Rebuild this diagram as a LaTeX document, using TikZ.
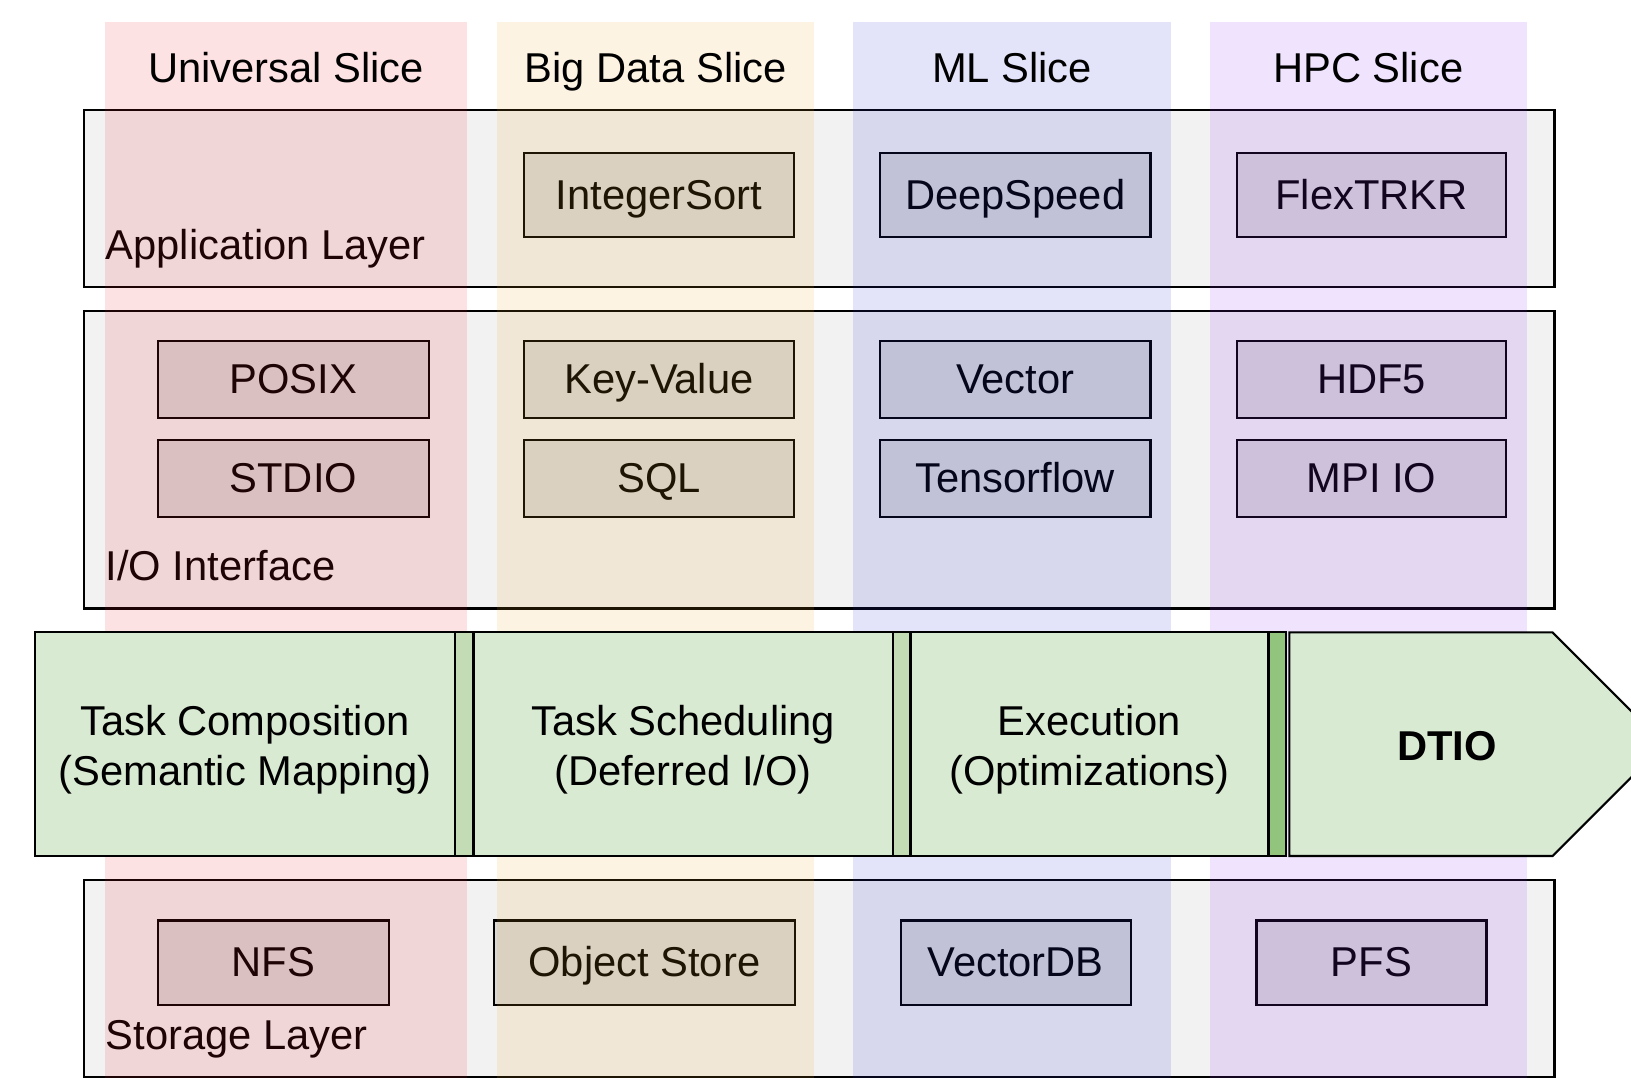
\documentclass[tikz,border=0pt]{standalone}
\usepackage{fontspec}
\setmainfont{Liberation Sans}
\usetikzlibrary{positioning}
\definecolor{layergray}{HTML}{F2F2F2}
\definecolor{itemgray}{HTML}{D8D8D8}
\definecolor{unicolor}{RGB}{240,32,47}
\definecolor{bigcolor}{RGB}{240,163,40}
\definecolor{mlcolor}{RGB}{40,40,217}
\definecolor{hpccolor}{RGB}{140,40,240}
\definecolor{stagegreen}{HTML}{D9EAD3}
\definecolor{joingreen}{HTML}{C3DCB6}
\definecolor{darkgreen}{HTML}{93C47D}
\tikzset{
    x=0.01cm, y=-0.01cm, % one unit is one pixel, y runs down
    every node/.append style={font=\fontsize{11.4}{13.7}\selectfont}, % Arial-like text everywhere
    layer/.style={draw, line width=0.6pt, fill=layergray, inner sep=0pt}, % the grey layer frames
    item/.style={draw, line width=0.6pt, fill=itemgray, minimum width=2.6cm, minimum height=0.81cm,
        inner sep=0pt, text height=0.8em, text depth=0.03em}, % boxes inside a layer
    iface/.style={item, minimum height=0.74cm}, % the lower I/O boxes
    tag/.style={anchor=base west, inner sep=0pt}, % layer names
    slice/.style={fill opacity=0.13}, % coloured columns laid over the layers
    pipe/.style={draw, line width=0.6pt, fill=stagegreen}, % DTIO pipeline
    stage/.style={pipe, minimum height=2.15cm, outer sep=0pt, inner sep=0pt, align=center,
        text height=25pt, text depth=2.4pt},
    joint/.style={pipe, minimum height=2.15cm, outer sep=0pt, inner sep=0pt, fill=joingreen, minimum width=0.18cm},
}
\begin{document}
\begin{tikzpicture}
    \clip (0,0) rectangle (1568,1036);
    \fill[white] (0,0) rectangle (1568,1036);
    % layers
    \node[layer, minimum width=14.13cm, minimum height=1.70cm] (app) at (787.5,191) {};
    \node[layer, minimum width=14.13cm, minimum height=2.86cm] (io) at (787.5,442) {};
    \node[layer, minimum width=14.13cm, minimum height=1.89cm] (store) at (787.5,940.5) {};
    \node[tag] (applabel) at (101,249) {Application Layer};
    \node[tag] (iolabel) at (101,558) {I/O Interface};
    \node[tag] (storelabel) at (101,1009) {Storage Layer};
    % application layer
    \node[item, minimum width=2.59cm] (isort) at (633.5,187.5) {IntegerSort};
    \node[item] (dspeed) at (976,187.5) {DeepSpeed};
    \node[item, minimum width=2.59cm] (flex) at (1318.5,187.5) {FlexTRKR};
    % i/o interface
    \node[iface] (posix) at (282,365) {POSIX};
    \node[iface, below=0.19cm of posix] (stdio) {STDIO};
    \node[iface, minimum width=2.59cm] (kv) at (633.5,365) {Key-Value};
    \node[iface, minimum width=2.59cm, below=0.19cm of kv] (sql) {SQL};
    \node[iface] (vector) at (976,365) {Vector};
    \node[iface, below=0.19cm of vector] (tflow) {Tensorflow};
    \node[iface, minimum width=2.59cm] (hdf) at (1318.5,365) {HDF5};
    \node[iface, minimum width=2.59cm, below=0.19cm of hdf] (mpiio) {MPI IO};
    % storage layer
    \node[item, minimum width=2.22cm] (nfs) at (263,925.5) {NFS};
    \node[item, minimum width=2.89cm] (objstore) at (619.5,925.5) {Object Store};
    \node[item, minimum width=2.21cm] (vdb) at (976.5,925.5) {VectorDB};
    \node[item, minimum width=2.21cm] (pfs) at (1318.5,925.5) {PFS};
    % slices
    \fill[slice, unicolor] (101,21) rectangle (449,1036);
    \fill[slice, bigcolor] (478,21) rectangle (783,1036);
    \fill[slice, mlcolor] (820,21) rectangle (1126,1036);
    \fill[slice, hpccolor] (1163,21) rectangle (1468,1036);
    \node[anchor=base] (uni) at (275,79) {Universal Slice};
    \node[anchor=base] (big) at (630.5,79) {Big Data Slice};
    \node[anchor=base] (ml) at (973,79) {ML Slice};
    \node[anchor=base] (hpc) at (1315.5,79) {HPC Slice};
    % pipeline
    \node[stage, minimum width=4.03cm] (compose) at (235.5,715.5) {Task Composition\\(Semantic Mapping)};
    \node[joint, right=0pt of compose] (join1) {};
    \node[stage, minimum width=4.03cm, right=0pt of join1] (schedule) {Task Scheduling\\(Deferred I/O)};
    \node[joint, minimum width=0.17cm, right=0pt of schedule] (join2) {};
    \node[stage, minimum width=3.44cm, right=0pt of join2] (exec) {Execution\\(Optimizations)};
    \node[joint, fill=darkgreen, minimum width=0.17cm, right=0pt of exec] (join3) {};
    \draw[pipe] ([xshift=0.03cm]join3.north east) -- ++(253,0) -- ++(107.5,107.5)
        -- ++(-107.5,107.5) -- ++(-253,0) -- cycle;
    \node[font=\fontsize{11.4}{13.7}\selectfont\bfseries] (dtio) at (1391,717) {DTIO};
\end{tikzpicture}
\end{document}
